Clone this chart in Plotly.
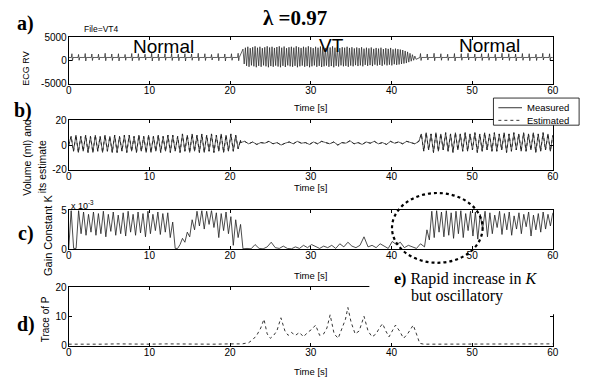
import numpy as np
import plotly.graph_objects as go

W, H = 593, 387

# ------------------------------------------------------------------ data
time_ticks = [0, 10, 20, 30, 40, 50, 60]

# a) ECG RV : beats (peak / trough), normal - VT - normal
ecg_baseline = 600
ecg_n1_span = (0.4, 21.0)
ecg_n1_hi = [1400, 1250, 1450, 1350, 1300, 1500, 1350, 1400, 1250, 1450, 1400, 1300, 1500,
             1350, 1400, 1450, 1300, 1400, 1350, 1500, 1400, 1250, 1450, 1350, 1400, 1500]
ecg_n1_lo = [-100, 0, -150, -50, 50, -100, -50, -150, 0, -100, -50, 50, -150,
             -100, 0, -50, -100, -150, 0, -100, -50, 50, -100, -150, 0, -100]
ecg_vt_span = (21.6, 42.9)
ecg_vt_hi = [2400, 2700, 2900, 2600, 2800, 3000, 2700, 2900, 2600, 2800,
             3000, 2750, 2900, 2650, 2850, 3000, 2700, 2950, 2600, 2800,
             2900, 2700, 3000, 2800, 2650, 2900, 2750, 3000, 2800, 2600,
             2900, 2700, 2950, 2800, 2650, 2900, 2750, 3000, 2700, 2850,
             2600, 2800, 2700, 2900, 2650, 2800, 2550, 2750, 2600, 2800,
             2500, 2700, 2550, 2750, 2450, 2650, 2500, 2700, 2400, 2600,
             2450, 2650, 2350, 2500, 2400, 2300, 2200, 2000, 1800, 1500,
             1200, 900]
ecg_vt_lo = [-800, -1200, -1400, -1100, -1300, -1500, -1200, -1400, -1100, -1300,
             -1500, -1250, -1400, -1150, -1350, -1500, -1200, -1450, -1100, -1300,
             -1400, -1200, -1500, -1300, -1150, -1400, -1250, -1500, -1300, -1100,
             -1400, -1200, -1450, -1300, -1150, -1400, -1250, -1500, -1200, -1350,
             -1100, -1300, -1200, -1400, -1150, -1300, -1050, -1250, -1100, -1300,
             -1000, -1200, -1050, -1250, -950, -1150, -1000, -1200, -900, -1100,
             -950, -1100, -850, -1000, -900, -800, -700, -600, -400, -200,
             0, 200]
ecg_n2_span = (43.6, 59.6)
ecg_n2_hi = [1450, 1350, 1500, 1400, 1300, 1450, 1400, 1500, 1350, 1400,
             1450, 1300, 1500, 1400, 1350, 1450, 1400, 1300, 1500, 1400]
ecg_n2_lo = [-50, 50, -100, 0, -50, -150, 0, 50, -100, -50,
             0, -100, 50, -50, -150, 0, -100, -50, 50, 0]

# b) Volume (ml) : measured, sampled over three spans
vol_seg1_span = (0.0, 21.3)
vol_seg1 = [0, 7, -5, 8, -6, 7, -5, 8, -6, 7,
            -6, 8, -5, 7, -6, 8, -5, 7, -6, 8,
            -6, 7, -5, 8, -6, 8, -5, 7, -6, 8,
            -5, 7, -6, 8, -6, 7, -5, 8, -6, 7,
            -5, 8, -6, 8, -5, 7, -6, 9, -5, 8,
            -6, 9, -5, 8, -6, 9, -6, 8, -5, 9,
            -6, 8, -5, 9, -6, 8, -5, 9, -5, 8,
            -3, 4]
vol_seg2_span = (21.3, 43.4)
vol_seg2 = [2, 3, 1, 2.5, 0.5, 2, 1.5, 3, 1, 2,
            0, 1.5, 2.5, 1, 3, 1.5, 2, 0.5, 2.5, 1,
            3, 2, 1, 2.5, 0, 2, 1.5, 3.5, 1, 2,
            0.5, 2.5, 1.5, 3, 1, 2, 0.5, 3, 1.5, 2.5,
            1, 3, 2, 1, 3]
vol_seg3_span = (43.4, 60.0)
vol_seg3 = [3, 9, -5, 10, -4, 9, -6, 10, -5, 9,
            -4, 10, -5, 9, -6, 10, -4, 9, -5, 10,
            -5, 9, -4, 10, -6, 9, -5, 10, -4, 9,
            -5, 10, -5, 9, -4, 10, -6, 9, -5, 10,
            -4, 9, -5, 10, -5, 9, -4, 10, -6, 9,
            -5, 10, -4, 9, -5, 8]

# c) Gain constant K (x 1e-3)
k_seg1_span = (0.0, 13.2)
k_seg1 = [0, 5, 0.1, 0.1, 5, 2.0, 4.8, 1.8, 4.5, 2.2,
          4.8, 1.8, 4.6, 2.0, 4.9, 1.6, 4.5, 2.3, 4.8, 1.8,
          4.4, 2.0, 4.7, 1.7, 4.9, 2.2, 4.5, 1.8, 4.8, 2.1,
          4.6, 1.6, 4.9, 2.0, 4.5, 2.4, 4.8, 1.9, 4.6, 2.2,
          4.7, 1.5, 3.5, 0.1]
k_seg2_span = (13.2, 21.6)
k_seg2 = [0.1, 0.1, 0.6, 1.4, 0.9, 2.2, 1.6, 3.8, 2.5, 4.9,
          3.0, 5.0, 2.6, 4.9, 3.2, 5.0, 2.8, 4.7, 1.5, 4.6,
          2.4, 4.8, 2.0, 4.2, 0.5, 3.8, 1.5, 3.2, 0.1]
k_seg3_span = (21.6, 44.1)
k_seg3 = [0.05, 0.1, 0.05, 0.6, 0.1, 0.05, 0.3, 0.9, 0.2, 0.1,
          0.4, 0.1, 0.05, 0.3, 0.1, 0.5, 0.2, 0.6, 0.3, 0.1,
          0.4, 0.2, 0.5, 0.1, 0.7, 0.3, 0.9, 0.4, 0.2, 0.5,
          1.6, 0.3, 0.5, 0.2, 0.7, 0.4, 0.1, 1.0, 0.6, 0.9,
          0.2, 0.5, 0.3, 0.1, 0.7, 0.3]
k_seg4_span = (44.1, 60.0)
k_seg4 = [0.3, 2.5, 1.2, 4.9, 1.5, 5.0, 2.2, 4.8, 1.6, 5.0,
          1.8, 4.7, 1.4, 4.9, 2.0, 5.0, 1.5, 4.6, 2.4, 4.9,
          1.7, 4.8, 1.3, 4.5, 2.6, 4.9, 1.6, 4.7, 2.0, 4.4,
          2.8, 4.9, 1.9, 4.6, 2.5, 4.8, 1.8, 4.3, 2.6, 4.7,
          2.0, 4.5, 2.9, 4.8, 1.7, 4.4, 2.5, 4.6, 2.2, 4.8,
          2.6, 4.5, 3.0, 4.7]

# d) Trace of P
trace_t = [0, 2, 4, 6, 8, 10, 12, 14, 16, 18,
           20, 21.5, 22.3, 22.8, 23.3, 23.8, 24.2, 24.6, 25.0, 25.4,
           25.8, 26.3, 26.8, 27.2, 27.6, 28.1, 28.6, 29.1, 29.6, 30.1,
           30.6, 31.1, 31.6, 32.0, 32.4, 32.9, 33.4, 33.9, 34.3, 34.6,
           35.0, 35.5, 36.0, 36.6, 37.1, 37.6, 38.1, 38.5, 38.9, 39.3,
           39.7, 40.1, 40.5, 41.0, 41.5, 42.0, 42.7, 43.1, 43.5, 44,
           46, 48, 50, 52, 54, 56, 58, 60]
trace_p = [0.5, 0.4, 0.5, 0.6, 0.5, 0.5, 0.6, 0.5, 0.6, 0.5,
           0.6, 0.6, 1.0, 2.0, 3.5, 6.0, 9.0, 4.0, 2.5, 3.5,
           5.0, 9.5, 5.0, 3.5, 4.5, 3.5, 4.5, 3.0, 4.5, 5.5,
           7.0, 3.5, 4.0, 6.0, 10.5, 4.0, 2.5, 6.0, 9.0, 13.0,
           8.0, 4.0, 5.0, 10.0, 5.0, 3.0, 4.0, 6.0, 7.5, 5.0,
           3.0, 5.0, 7.0, 5.0, 2.5, 4.0, 7.0, 4.0, 0.8, 0.5,
           0.5, 0.6, 0.5, 0.5, 0.6, 0.5, 0.5, 0.6]


# ------------------------------------------------------------------ build series
def beats_normal(span, hi, lo, base):
    ts = np.linspace(span[0], span[1], len(hi))
    xs, ys = [], []
    for t, h, l in zip(ts, hi, lo):
        xs += [t - 0.07, t, t + 0.07, t + 0.14]
        ys += [base, h, l, base]
    return xs, ys


def beats_vt(span, hi, lo):
    ts = np.linspace(span[0], span[1], len(hi))
    xs, ys = [], []
    for t, h, l in zip(ts, hi, lo):
        xs += [t, t + 0.15]
        ys += [h, l]
    return xs, ys


def segs(*pairs):
    xs, ys = [], []
    for span, vals in pairs:
        xs += list(np.linspace(span[0], span[1], len(vals)))
        ys += list(vals)
    return xs, ys


ex1, ey1 = beats_normal(ecg_n1_span, ecg_n1_hi, ecg_n1_lo, ecg_baseline)
ex2, ey2 = beats_vt(ecg_vt_span, ecg_vt_hi, ecg_vt_lo)
ex3, ey3 = beats_normal(ecg_n2_span, ecg_n2_hi, ecg_n2_lo, ecg_baseline)
ecg_x = [0] + ex1 + ex2 + ex3 + [60]
ecg_y = [ecg_baseline] + ey1 + ey2 + ey3 + [ecg_baseline]

vol_t, vol_measured = segs((vol_seg1_span, vol_seg1), (vol_seg2_span, vol_seg2),
                           (vol_seg3_span, vol_seg3))
vol_estimated = list(vol_measured)

k_t, k_vals = segs((k_seg1_span, k_seg1), (k_seg2_span, k_seg2),
                   (k_seg3_span, k_seg3), (k_seg4_span, k_seg4))

# ------------------------------------------------------------------ figure
def px(x):
    return x / W


def py(y):
    return 1 - y / H


LC = "#1e1e1e"
fig = go.Figure()
fig.add_trace(go.Scatter(x=ecg_x, y=ecg_y, mode="lines", line=dict(color=LC, width=0.7),
                         xaxis="x", yaxis="y", showlegend=False))
fig.add_trace(go.Scatter(x=vol_t, y=vol_measured, mode="lines", line=dict(color=LC, width=0.7),
                         xaxis="x2", yaxis="y2", showlegend=False))
fig.add_trace(go.Scatter(x=vol_t, y=vol_estimated, mode="lines",
                         line=dict(color=LC, width=0.9, dash="dot"),
                         xaxis="x2", yaxis="y2", showlegend=False))
fig.add_trace(go.Scatter(x=k_t, y=k_vals, mode="lines", line=dict(color=LC, width=0.8),
                         xaxis="x3", yaxis="y3", showlegend=False))
fig.add_trace(go.Scatter(x=trace_t, y=trace_p, mode="lines",
                         line=dict(color=LC, width=0.9, dash="dot"),
                         xaxis="x4", yaxis="y4", showlegend=False))

tickfont = dict(family="Liberation Sans, Arial", size=10, color="black")
xdom = [px(66.7), px(558.3)]


def xax(anchor):
    return dict(domain=xdom, anchor=anchor, range=[0, 60], tickvals=time_ticks,
                ticks="inside", ticklen=3, tickcolor="black", showline=True,
                linecolor="black", linewidth=1, mirror="allticks", showgrid=False,
                zeroline=False, tickfont=tickfont, ticklabelstandoff=-3)


def yax(anchor, top, bottom, rng, tv, tt):
    return dict(domain=[py(bottom), py(top)], anchor=anchor, range=rng, tickvals=tv,
                ticktext=tt, ticks="inside", ticklen=3, tickcolor="black",
                showline=True, linecolor="black", linewidth=1, mirror="allticks",
                showgrid=False, zeroline=False, tickfont=tickfont, ticklabelstandoff=-1)


fig.update_layout(
    width=W, height=H, margin=dict(l=0, r=0, t=0, b=0),
    paper_bgcolor="white", plot_bgcolor="white",
    xaxis=xax("y"),
    yaxis=yax("x", 32, 80, [-5000, 5000], [-5000, 0, 5000], ["-5000", "0", "5000"]),
    xaxis2=xax("y2"),
    yaxis2=yax("x2", 118, 169, [-20, 20], [-20, 0, 20], ["-20", "0", "20"]),
    xaxis3=xax("y3"),
    yaxis3=yax("x3", 211, 251, [0, 5], [0, 5], ["0", "5"]),
    xaxis4=xax("y4"),
    yaxis4=yax("x4", 290, 350.5, [0, 20], [0, 10, 20], ["0", "10", "20"]),
)

ann = []


def text(x, y, s, size, family="Liberation Sans, Arial", xanchor="center",
         angle=0, color="black"):
    ann.append(dict(x=px(x), y=py(y), xref="paper", yref="paper", text=s,
                    showarrow=False, xanchor=xanchor, yanchor="middle",
                    textangle=angle, font=dict(family=family, size=size, color=color)))


serif = "Liberation Serif, Times New Roman, serif"
text(297, 12, "<b>λ =0.97</b>", 21, serif)
text(23, 18, "<b>a)</b>", 20, serif)
text(20, 108, "<b>b)</b>", 20, serif)
text(23, 235, "<b>c)</b>", 20, serif)
text(23, 329, "<b>d)</b>", 20, serif)
text(80, 24, "File=VT4", 8.5, xanchor="left")
text(163, 42, "Normal", 19)
text(334, 41, "VT", 19)
text(494, 41, "Normal", 19)

for yy in (105, 187, 278, 377):
    text(312, yy, "Time [s]", 9.5)

text(23, 65, "ECG RV", 9, angle=-90)
text(25, 156, "Volume (ml) and", 10.5, angle=-90)
text(39, 166, "its estimate", 10.5, angle=-90)
text(45, 237, "Gain Constant K", 11, angle=-90)
text(44, 323, "Trace of P", 10, angle=-90)
text(67, 205, "x 10<sup>-3</sup>", 9, xanchor="left")

# legend text
text(530, 105, "Measured", 9.5, xanchor="left")
text(530, 118, "Estimated", 9.5, xanchor="left")

# e) note
text(395, 282, "<b>e)</b> Rapid increase in <i>K</i>", 16, serif, xanchor="left")
text(412, 299, "but oscillatory", 16, serif, xanchor="left")

fig.update_layout(annotations=ann)

shapes = [
    # white patch behind the e) note
    dict(type="rect", xref="paper", yref="paper", x0=px(372), x1=px(593),
         y0=py(318), y1=py(272), fillcolor="white", line=dict(width=0), layer="above"),
    # legend box
    dict(type="rect", xref="paper", yref="paper", x0=px(498), x1=px(585),
         y0=py(123), y1=py(95), fillcolor="white", line=dict(color="black", width=0.8),
         layer="above"),
    dict(type="line", xref="paper", yref="paper", x0=px(503), x1=px(527),
         y0=py(105), y1=py(105), line=dict(color="black", width=0.8), layer="above"),
    dict(type="line", xref="paper", yref="paper", x0=px(503), x1=px(527),
         y0=py(118), y1=py(118), line=dict(color="black", width=0.8, dash="dot"),
         layer="above"),
    # dotted circle highlighting the rapid increase
    dict(type="circle", xref="paper", yref="paper", x0=px(395), x1=px(487),
         y0=py(265), y1=py(193), line=dict(color="black", width=2.2, dash="dot"),
         layer="above"),
]
fig.update_layout(shapes=shapes)

fig.write_html("out.html")
